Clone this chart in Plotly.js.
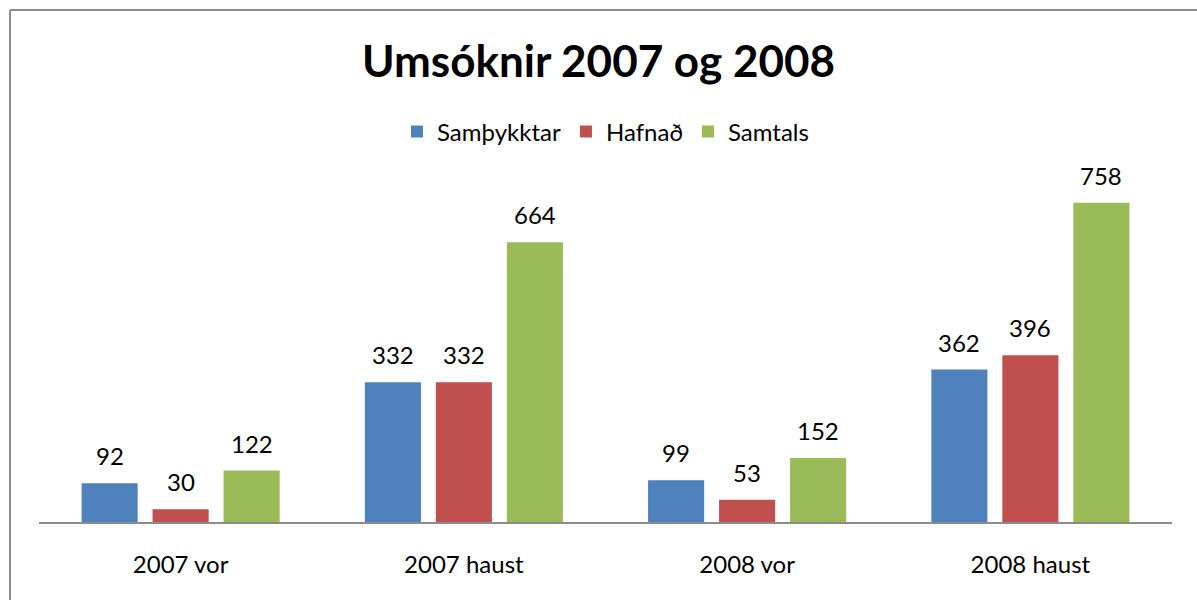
<!DOCTYPE html>
<html>
<head>
<meta charset="utf-8">
<script src="https://cdn.plot.ly/plotly-3.0.1.min.js"></script>
<style>html,body{margin:0;padding:0;background:#fff;}#chart{width:1197px;height:600px;}</style>
</head>
<body>
<div id="chart"></div>
<script>
const categories = ["2007 vor", "2007 haust", "2008 vor", "2008 haust"];
const seriesNames = ["Samþykktar", "Hafnað", "Samtals"];
const samthykktar = [92, 332, 99, 362];
const hafnad = [30, 332, 53, 396];
const samtals = [122, 664, 152, 758];
const colors = ["#4F81BD", "#C0504D", "#9BBB59"];
const seriesValues = [samthykktar, hafnad, samtals];

const FONT = "Lato, 'Open Sans', sans-serif";

const traces = seriesValues.map((vals, i) => ({
  type: "bar",
  name: seriesNames[i],
  x: categories,
  y: vals,
  marker: {color: colors[i]},
  hoverinfo: "x+y+name"
}));

const offsets = [-71, 0, 71];
const annotations = [];
seriesValues.forEach((vals, i) => {
  vals.forEach((v, j) => {
    annotations.push({
      x: categories[j], y: v, xref: "x", yref: "y",
      text: String(v), showarrow: false,
      xshift: offsets[i], yshift: 11, yanchor: "bottom",
      font: {family: FONT, size: 24, color: "#000"}
    });
  });
});

const bx = (10 - 39) / 1133;
const by = (522 - 10) / 337;

const layout = {
  width: 1197, height: 600,
  margin: {l: 39, r: 25, t: 185, b: 78, pad: 0},
  paper_bgcolor: "#fff", plot_bgcolor: "#fff",
  title: {text: "<b>Umsóknir 2007 og 2008</b>", x: 0.5, xanchor: "center", y: 1 - 62/600, yanchor: "middle",
          font: {family: FONT, size: 44, color: "#000"}},
  showlegend: true,
  legend: {orientation: "h", x: 0.5, xanchor: "center", y: (522-132)/337, yanchor: "middle",
           font: {family: FONT, size: 24, color: "#000"}, traceorder: "normal"},
  barmode: "group", bargap: 0.248, bargroupgap: 0.21,
  xaxis: {showline: true, linecolor: "#8c8c8c", linewidth: 2, ticks: "", showgrid: false,
          tickfont: {family: FONT, size: 24, color: "#000"}, ticklabelstandoff: 20, fixedrange: true},
  yaxis: {range: [0, 800], visible: false, showgrid: false, zeroline: false, fixedrange: true},
  annotations: annotations,
  shapes: [
    {type: "line", xref: "paper", yref: "paper", x0: bx, x1: bx, y0: -0.5, y1: by, line: {color: "#8c8c8c", width: 2}},
    {type: "line", xref: "paper", yref: "paper", x0: bx, x1: 1.2, y0: by, y1: by, line: {color: "#8c8c8c", width: 2}}
  ]
};

Plotly.newPlot("chart", traces, layout, {displayModeBar: false, staticPlot: true});
</script>
</body>
</html>
